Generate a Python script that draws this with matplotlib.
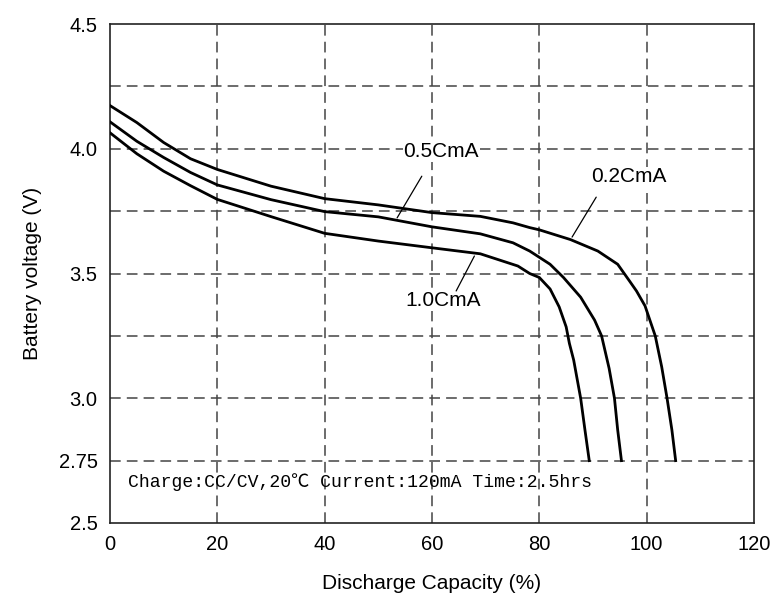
import matplotlib.pyplot as plt

# discharge curves (capacity %, voltage V)
cap_02 = [0, 5, 10, 15, 20, 30, 40, 50, 60, 69, 75.1, 78.2, 80, 85.8, 90.9, 94.6, 96.8,
          98.1, 99.7, 100.6, 101.6, 102.8, 103.8, 104.7, 105.4]
volt_02 = [4.173, 4.105, 4.025, 3.96, 3.917, 3.85, 3.80, 3.775, 3.744, 3.729, 3.703, 3.684,
           3.675, 3.636, 3.59, 3.537, 3.47, 3.43, 3.37, 3.313, 3.25, 3.126, 3.0, 2.873, 2.75]

cap_05 = [0, 5, 10, 15, 20, 30, 40, 50, 60, 69, 75.1, 78.2, 82.0, 84.5, 87.7, 90.3,
          91.6, 93.0, 94.0, 94.6, 95.3]
volt_05 = [4.108, 4.03, 3.965, 3.905, 3.855, 3.796, 3.748, 3.727, 3.687, 3.659, 3.623, 3.59,
           3.537, 3.484, 3.405, 3.313, 3.25, 3.12, 3.0, 2.873, 2.75]

cap_10 = [0, 5, 10, 15, 20, 30, 40, 50, 60, 69, 76, 78.2, 80, 82.0, 83.7, 85.0, 85.6,
          86.4, 87.7, 88.5, 89.3]
volt_10 = [4.064, 3.98, 3.91, 3.852, 3.797, 3.728, 3.661, 3.63, 3.603, 3.579, 3.53, 3.50,
           3.484, 3.438, 3.366, 3.286, 3.22, 3.153, 3.0, 2.873, 2.75]

xticks = [0, 20, 40, 60, 80, 100, 120]
yticks = [2.5, 2.75, 3.0, 3.5, 4.0, 4.5]
ytick_labels = ["2.5", "2.75", "3.0", "3.5", "4.0", "4.5"]
ygrid = [2.75, 3.0, 3.25, 3.5, 3.75, 4.0, 4.25]
xgrid = [20, 40, 60, 80, 100]

note = "Charge:CC/CV,20℃ Current:120mA Time:2.5hrs"

plt.rcParams["font.family"] = ["Liberation Sans", "DejaVu Sans"]

fig = plt.figure(figsize=(7.76, 6.01), dpi=100)
ax = fig.add_axes([110 / 776, 1 - 523 / 601, 644 / 776, 499 / 601])

grid_style = dict(color="#444444", lw=1.1, ls=(0, (7, 4)), zorder=1)
for g in ygrid:
    ax.axhline(g, **grid_style)
for g in xgrid:
    ax.axvline(g, **grid_style)

for c, v in [(cap_02, volt_02), (cap_05, volt_05), (cap_10, volt_10)]:
    ax.plot(c, v, color="black", lw=2.0, zorder=3, solid_joinstyle="round")

# curve labels with leader lines
labels = [
    ("0.5CmA", (54.7, 3.987), (58.1, 3.89), (53.5, 3.723)),
    ("0.2CmA", (89.7, 3.887), (90.6, 3.806), (86.1, 3.646)),
    ("1.0CmA", (55.1, 3.391), (67.9, 3.57), (64.5, 3.43)),
]
for txt, tpos, p0, p1 in labels:
    ax.text(tpos[0], tpos[1], txt, fontsize=15, ha="left", va="center",
            zorder=4, bbox=dict(facecolor="white", edgecolor="none", pad=0.5))
    ax.annotate("", xy=p1, xytext=p0,
                arrowprops=dict(arrowstyle="-", lw=0.9, color="black",
                                shrinkA=0, shrinkB=0), zorder=4)

ax.text(3.4, 2.663, note, fontsize=13.1, ha="left", va="center",
        family=["Liberation Mono", "Noto Sans CJK SC", "DejaVu Sans"], zorder=4)

ax.set_xlim(0, 120)
ax.set_ylim(2.5, 4.5)
ax.set_xticks(xticks)
ax.set_yticks(yticks)
ax.set_yticklabels(ytick_labels)
ax.tick_params(length=0, labelsize=14.5, pad=9)
for s in ax.spines.values():
    s.set_linewidth(1.2)
    s.set_color("#222222")

ax.set_xlabel("Discharge Capacity (%)", fontsize=15, labelpad=14)
ax.set_ylabel("Battery voltage (V)", fontsize=15, labelpad=12)

fig.savefig("out.png", dpi=100)
